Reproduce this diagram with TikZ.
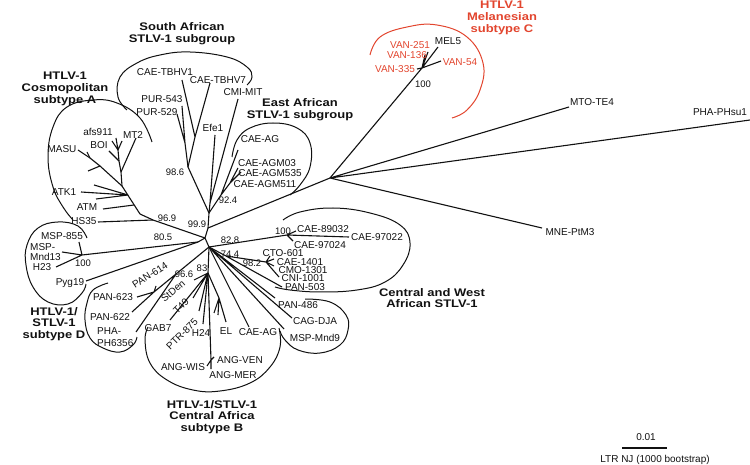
\documentclass[tikz,border=0pt]{standalone}
\usepackage{fontspec}
\setmainfont{Liberation Sans}
\newfontfamily\cladefont[FakeStretch=1.18]{Liberation Sans}
\usepackage{tikz}
\definecolor{melred}{HTML}{E2452E}
\definecolor{treeblack}{HTML}{111111}

\begin{document}
\begin{tikzpicture}[
  x=1pt,y=-1pt,
  every node/.style={inner sep=0pt,text=treeblack,font=\fontsize{10}{11}\selectfont},
  boot/.style={font=\fontsize{9.5}{10}\selectfont},
  cladetitle/.style={align=center,font=\cladefont\bfseries\fontsize{11}{11.8}\selectfont},
  branch/.style={draw=treeblack,line width=1.1pt,line join=round},
  hull/.style={draw=treeblack,line width=1pt},
]
\useasboundingbox (0,0) rectangle (750,465);

% hub of the tree
\coordinate (n99) at (209,213);
\coordinate (nr) at (208,228);
\coordinate (hub) at (205,238);
\coordinate (hubl) at (209,247);
\draw[branch] (n99) -- (nr) -- (hub) -- (hubl);

% subtype A
\coordinate (a0) at (153,220);
\coordinate (a1) at (140,214);
\coordinate (a2) at (122,186);
\coordinate (a3) at (100,166);
\coordinate (a4) at (90,158);
\coordinate (aATM) at (134,205);
\coordinate (aK) at (128,195);
\coordinate (b1) at (121,172);
\coordinate (bB) at (119,161);
\coordinate (b2) at (118,150);
\coordinate (tHS35) at (98,222);
\coordinate (tMASU) at (78,150);
\coordinate (tATM) at (103,209);
\coordinate (tATK1) at (81,192);
\coordinate (tK2) at (94,185);
\coordinate (tK3) at (96,199);
\coordinate (tMT2) at (136,138);
\coordinate (tBOI) at (109,151);
\coordinate (tAfs1) at (112,141);
\coordinate (tAfs2) at (116,138);
\coordinate (tAfs3) at (122,141);
\coordinate (tM1) at (88,171);
\coordinate (tM2) at (87,152);
\draw[branch] (hub) -- (a0) -- (a1) -- (a2) -- (a3) -- (a4) -- (tMASU);
\draw[branch] (a0) -- (tHS35) (aATM) -- (tATM);
\draw[branch] (aK) -- (tATK1) (aK) -- (tK2) (aK) -- (tK3);
\draw[branch] (a2) -- (b1) -- (bB) -- (b2);
\draw[branch] (b1) -- (tMT2) (bB) -- (tBOI);
\draw[branch] (b2) -- (tAfs1) (b2) -- (tAfs2) (b2) -- (tAfs3);
\draw[branch] (a3) -- (tM1) (a4) -- (tM2);
\draw[hull] plot[smooth,tension=0.7] coordinates {(152,142) (140,118) (117,103) (93,100) (67,107) (53,127) (48,157) (53,187) (63,207) (73,220)};
\node (lMASU) at (62,149) {MASU};
\node (lafs) at (98,132) {afs911};
\node (lBOI) at (99,145) {BOI};
\node (lMT2) at (133,135) {MT2};
\node (lATK1) at (64,192) {ATK1};
\node (lATM) at (87,207) {ATM};
\node (lHS35) at (84,221) {HS35};
\node[cladetitle] (ttA) at (65,89) {HTLV-1\\Cosmopolitan\\subtype A};

% South African subgroup
\coordinate (sa0) at (188,167);
\coordinate (sa1) at (195,137);
\coordinate (sa2) at (185,143);
\coordinate (s2) at (210,203);
\coordinate (tTBHV7) at (210,83);
\coordinate (tTBHV1) at (182,80);
\coordinate (tPUR543) at (182,106);
\coordinate (tPUR529) at (177,114);
\coordinate (tEfe1) at (215,135);
\coordinate (tCMI) at (238,99);
\draw[branch] (n99) -- (sa0) -- (sa1) -- (tTBHV7) (sa1) -- (tTBHV1);
\draw[branch] (sa0) -- (sa2) -- (tPUR543) (sa2) -- (tPUR529);
\draw[branch] (n99) -- (s2) -- (tEfe1) (s2) -- (tCMI);
\draw[hull] plot[smooth,tension=0.7] coordinates {(127,110) (118,97) (120,77) (137,63) (160,55) (190,52) (227,57) (247,67) (252,77) (247,85)};
\node (lTBHV1) at (165,72) {CAE-TBHV1};
\node (lTBHV7) at (218,80) {CAE-TBHV7};
\node (lCMI) at (243,92) {CMI-MIT};
\node (lPUR543) at (162,99) {PUR-543};
\node (lPUR529) at (157,112) {PUR-529};
\node (lEfe1) at (213,128) {Efe1};
\node[cladetitle] (ttSA) at (182,34) {South African\\STLV-1 subgroup};

% East African subgroup
\coordinate (e0) at (221,195);
\coordinate (e1) at (230,183);
\coordinate (tEAG) at (238,150);
\coordinate (tAGM03) at (238,168);
\coordinate (tAGM535) at (241,172);
\coordinate (tAGM511) at (232,180);
\draw[branch] (n99) -- (e0) -- (tEAG) (e0) -- (e1) -- (tAGM03) (e1) -- (tAGM535) (e1) -- (tAGM511);
\draw[hull] plot[smooth,tension=0.7] coordinates {(232,157) (237,140) (250,128) (273,123) (297,128) (310,143) (310,167) (300,185) (290,195)};
\node (lEAG) at (260,139) {CAE-AG};
\node (lAGM03) at (267,163) {CAE-AGM03};
\node (lAGM535) at (270,173) {CAE-AGM535};
\node (lAGM511) at (265,184) {CAE-AGM511};
\node[cladetitle] (ttEA) at (300,110) {East African\\STLV-1 subgroup};

% Melanesian subtype C and outgroups
\coordinate (j0) at (330,178);
\coordinate (mel) at (422,68);
\coordinate (tMEL5) at (438,47);
\coordinate (tVAN54) at (441,61);
\coordinate (tVAN251) at (428,52);
\coordinate (tVAN136) at (425,55);
\coordinate (tVAN335) at (417,69);
\coordinate (tMTO) at (569,107);
\coordinate (tPHA) at (750,120);
\coordinate (tMNE) at (542,228);
\draw[branch] (nr) -- (j0) -- (mel);
\draw[branch] (mel) -- (tMEL5) (mel) -- (tVAN54) (mel) -- (tVAN251) (mel) -- (tVAN136) (mel) -- (tVAN335);
\draw[branch] (j0) -- (tMTO) (j0) -- (tPHA) (j0) -- (tMNE);
\draw[hull,draw=melred] plot[smooth,tension=0.7] coordinates {(370,55) (380,37) (407,27) (437,25) (467,37) (483,63) (480,90) (467,110) (452,118)};
\node (lMEL5) at (448,41) {MEL5};
\node[text=melred] (lVAN251) at (410,45) {VAN-251};
\node[text=melred] (lVAN136) at (407,55) {VAN-136};
\node[text=melred] (lVAN335) at (395,69) {VAN-335};
\node[text=melred] (lVAN54) at (460,62) {VAN-54};
\node[cladetitle,text=melred] (ttC) at (502,18) {HTLV-1\\Melanesian\\subtype C};
\node (lMTO) at (592,102) {MTO-TE4};
\node (lPHA) at (720,112) {PHA-PHsu1};
\node (lMNE) at (570,232) {MNE-PtM3};

% subtype D
\coordinate (n80) at (198,242);
\coordinate (d100) at (82,255);
\coordinate (tMSP855) at (79,242);
\coordinate (tMnd13) at (62,252);
\coordinate (tH23) at (56,267);
\coordinate (tPyg19) at (86,281);
\draw[branch] (hub) -- (n80) -- (d100) -- (tMSP855) (d100) -- (tMnd13) (d100) -- (tH23);
\draw[branch] (n80) -- (tPyg19);
\draw[hull] plot[smooth,tension=0.7] coordinates {(87,238) (78,226) (58,222) (38,228) (27,245) (26,265) (33,287) (48,302) (68,304) (82,293) (86,284)};
\node (lMSP855) at (62,236) {MSP-855};
\node[align=left,anchor=west,font=\fontsize{10}{10}\selectfont] (lMnd13) at (30,252) {MSP-\\Mnd13};
\node (lH23) at (42,267) {H23};
\node (lPyg19) at (70,283) {Pyg19};
\node[cladetitle] (ttD) at (54,324) {HTLV-1/\\STLV-1\\subtype D};

% PAN group
\coordinate (n966) at (176,274);
\coordinate (n614) at (154,292);
\coordinate (tPH6356) at (136,332);
\coordinate (tPAN614) at (156,286);
\coordinate (tPAN623) at (137,297);
\coordinate (tPAN622) at (132,312);
\draw[branch] (hubl) -- (n966) -- (tPH6356) (n966) -- (n614) -- (tPAN614) (n614) -- (tPAN623) (n614) -- (tPAN622);
\draw[hull] plot[smooth,tension=0.7] coordinates {(108,283) (93,290) (87,303) (85,320) (90,338) (103,348) (120,352) (133,345) (137,337)};
\node[rotate=33] (lPAN614) at (150,275) {PAN-614};
\node (lPAN623) at (113,297) {PAN-623};
\node (lPAN622) at (110,317) {PAN-622};
\node[align=left,anchor=west,font=\fontsize{10}{12.5}\selectfont] (lPH6356) at (97,337) {PHA-\\PH6356};

% subtype B
\coordinate (n83) at (208,273);
\coordinate (nel) at (219,298);
\coordinate (nang) at (211,360);
\coordinate (tStDen) at (194,280);
\coordinate (tGAB7) at (170,320);
\coordinate (tT49) at (193,298);
\coordinate (tPTR875) at (199,311);
\coordinate (tH24) at (203,324);
\coordinate (tEL) at (226,322);
\coordinate (tEL1) at (214,313);
\coordinate (tEL2) at (218,315);
\coordinate (tVEN) at (214,357);
\coordinate (tWIS) at (207,366);
\coordinate (tMER) at (211,369);
\coordinate (tCAEAGb) at (249,327);
\draw[branch] (hubl) -- (n83);
\draw[branch] (n83) -- (tStDen) (n83) -- (tGAB7) (n83) -- (tT49) (n83) -- (tPTR875) (n83) -- (tH24);
\draw[branch] (n83) -- (nel) -- (tEL) (nel) -- (tEL1) (nel) -- (tEL2);
\draw[branch] (n83) -- (nang) -- (tVEN) (nang) -- (tWIS) (nang) -- (tMER);
\draw[branch] (hubl) -- (tCAEAGb);
\draw[hull] plot[smooth,tension=0.7] coordinates {(148,327) (145,340) (150,363) (167,380) (193,390) (220,391) (250,383) (270,367) (280,347) (279,328)};
\node[rotate=40] (lStDen) at (173,291) {StDen};
\node (lGAB7) at (158,328) {GAB7};
\node[rotate=45] (lT49) at (181,306) {T49};
\node[rotate=45] (lPTR875) at (182,334) {PTR-875};
\node (lH24) at (201,333) {H24};
\node (lEL) at (226,331) {EL};
\node (lCAEAGb) at (258,332) {CAE-AG};
\node (lVEN) at (240,360) {ANG-VEN};
\node (lWIS) at (183,367) {ANG-WIS};
\node (lMER) at (233,375) {ANG-MER};
\node[cladetitle] (ttB) at (212,417) {HTLV-1/STLV-1\\Central Africa\\subtype B};

% Central and West African STLV-1
\coordinate (n100c) at (287,235);
\coordinate (n74) at (226,256);
\coordinate (n98) at (266,262);
\coordinate (t89032) at (296,231);
\coordinate (t97024) at (293,241);
\coordinate (t97022) at (349,237);
\coordinate (t601) at (270,256);
\coordinate (t1401) at (274,259);
\coordinate (t1301) at (274,266);
\coordinate (t1001) at (279,277);
\coordinate (tPAN503) at (282,287);
\draw[branch] (hubl) -- (n100c) -- (t89032) (n100c) -- (t97024) (n100c) -- (t97022);
\draw[branch] (hubl) -- (n74) -- (tPAN503) (n74) -- (n98) -- (t601) (n98) -- (t1401) (n98) -- (t1301) (n98) -- (t1001);
\draw[hull] plot[smooth,tension=0.7] coordinates {(283,220) (300,212) (333,208) (370,213) (400,225) (410,243) (403,265) (385,282) (357,290) (320,292) (290,290) (275,287)};
\node (l89032) at (323,229) {CAE-89032};
\node (l97024) at (320,245) {CAE-97024};
\node (l97022) at (377,237) {CAE-97022};
\node (l601) at (283,253) {CTO-601};
\node (l1401) at (300,262) {CAE-1401};
\node (l1301) at (303,270) {CMO-1301};
\node (l1001) at (303,278) {CNI-1001};
\node (lPAN503) at (305,287) {PAN-503};
\node[cladetitle] (ttCW) at (432,298) {Central and West\\African STLV-1};

% PAN-486 group
\coordinate (tPAN486) at (275,298);
\coordinate (tCAG) at (292,318);
\coordinate (tMnd9) at (284,329);
\draw[branch] (hubl) -- (tPAN486) (hubl) -- (tCAG) (hubl) -- (tMnd9);
\draw[hull] plot[smooth,tension=0.7] coordinates {(305,299) (330,302) (346,315) (348,330) (340,345) (320,353) (298,350) (285,340) (280,331)};
\node (lPAN486) at (298,305) {PAN-486};
\node (lCAG) at (315,321) {CAG-DJA};
\node (lMnd9) at (315,338) {MSP-Mnd9};

% bootstrap values
\node[boot] (b986) at (175,172) {98.6};
\node[boot] (b969) at (167,218) {96.9};
\node[boot] (b999) at (197,224) {99.9};
\node[boot] (b805) at (163,237) {80.5};
\node[boot] (b100d) at (83,263) {100};
\node[boot] (b966) at (184,274) {96.6};
\node[boot] (b83) at (202,268) {83};
\node[boot] (b828) at (230,240) {82.8};
\node[boot] (b744) at (230,254) {74.4};
\node[boot] (b982) at (252,263) {98.2};
\node[boot] (b100c) at (283,231) {100};
\node[boot] (b924) at (228,200) {92.4};
\node[boot] (b100m) at (423,84) {100};

% scale bar
\coordinate (sbl) at (622,448);
\coordinate (sbr) at (667,448);
\draw[branch] (sbl) -- (sbr);
\node (lscale) at (646,437) {0.01};
\node (lmethod) at (655,460) {LTR NJ (1000 bootstrap)};
\end{tikzpicture}
\end{document}
